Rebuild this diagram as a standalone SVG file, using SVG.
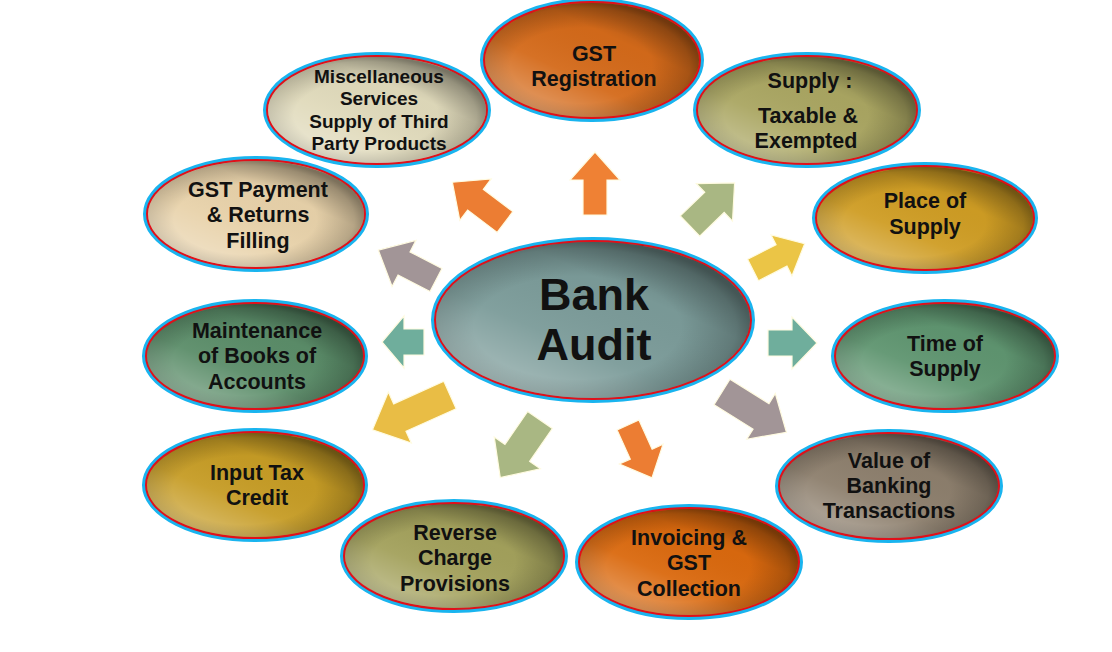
<svg xmlns="http://www.w3.org/2000/svg" width="1112" height="652" viewBox="0 0 1112 652">
<defs>
<radialGradient id="shade" cx="45%" cy="55%" r="55%">
<stop offset="0.6" stop-color="#000" stop-opacity="0"/>
<stop offset="0.92" stop-color="#000" stop-opacity="0.2"/>
<stop offset="1" stop-color="#000" stop-opacity="0.32"/>
</radialGradient>
<linearGradient id="gloss" x1="0.15" y1="0.9" x2="0.85" y2="0.1">
<stop offset="0" stop-color="#fff" stop-opacity="0.35"/>
<stop offset="0.35" stop-color="#fff" stop-opacity="0.05"/>
<stop offset="0.7" stop-color="#000" stop-opacity="0.02"/>
<stop offset="1" stop-color="#000" stop-opacity="0.25"/>
</linearGradient>
</defs>
<style>
.ring{fill:none;stroke:#19b4ef;stroke-width:4}
.edge{stroke:#e0101a;stroke-width:2}
.ov{stroke:none}
text{font-family:"Liberation Sans",Arial,sans-serif;font-weight:bold;fill:#111;text-anchor:middle;font-size:21.5px}
.arr{stroke:#fffbe0;stroke-width:1.2;stroke-linejoin:miter}
</style>
<rect width="1112" height="652" fill="#fff"/>

<g id="connectors">
<polygon class="arr" fill="#ef8134" points="0,-12 35,-12 35,-25 63,0 35,25 35,12 0,12" transform="translate(595,215) rotate(-90)"/>
<polygon class="arr" fill="#a9b783" points="0,-14 34,-14 34,-26 62,0 34,26 34,14 0,14" transform="translate(690,226) rotate(-44)"/>
<polygon class="arr" fill="#ebc546" points="0,-12 32,-12 32,-23 58,0 32,23 32,12 0,12" transform="translate(753,270) rotate(-27)"/>
<polygon class="arr" fill="#6fae9c" points="0,-13 24,-13 24,-26 49,0 24,26 24,13 0,13" transform="translate(768,343) rotate(0)"/>
<polygon class="arr" fill="#a29597" points="0,-15 46,-15 46,-27 76,0 46,27 46,15 0,15" transform="translate(722,392) rotate(32)"/>
<polygon class="arr" fill="#ec7d33" points="0,-12 32,-12 32,-24 58,0 32,24 32,12 0,12" transform="translate(628,425) rotate(65.6)"/>
<polygon class="arr" fill="#a9b783" points="0,-15 40,-15 40,-28 70,0 40,28 40,15 0,15" transform="translate(540,420) rotate(124.6)"/>
<polygon class="arr" fill="#e9bd45" points="0,-15 55,-15 55,-28 85,0 55,28 55,15 0,15" transform="translate(450,395) rotate(155.8)"/>
<polygon class="arr" fill="#6fae9c" points="0,-13 20,-13 20,-26 42,0 20,26 20,13 0,13" transform="translate(424,342) rotate(180)"/>
<polygon class="arr" fill="#a29597" points="0,-13 36,-13 36,-26 65,0 36,26 36,13 0,13" transform="translate(436,280) rotate(207.4)"/>
<polygon class="arr" fill="#ec7d33" points="0,-13 37,-13 37,-26 66,0 37,26 37,13 0,13" transform="translate(505,222) rotate(217.1)"/>
</g>

<g id="n-gst-registration">
<ellipse class="ring" cx="592" cy="60" rx="110" ry="60"/>
<ellipse class="edge" fill="#d46a1a" cx="592" cy="60" rx="108" ry="58"/>
<ellipse class="ov" fill="url(#gloss)" cx="592" cy="60" rx="107" ry="57"/>
<ellipse class="ov" fill="url(#shade)" cx="592" cy="60" rx="107" ry="57"/>
<text x="594" y="61">GST</text><text x="594" y="86">Registration</text>
</g>

<g id="n-supply">
<ellipse class="ring" cx="807" cy="110" rx="112" ry="56"/>
<ellipse class="edge" fill="#aaa662" cx="807" cy="110" rx="110" ry="54"/>
<ellipse class="ov" fill="url(#gloss)" cx="807" cy="110" rx="109" ry="53"/>
<ellipse class="ov" fill="url(#shade)" cx="807" cy="110" rx="109" ry="53"/>
<text x="810" y="88">Supply :</text><text x="808" y="123">Taxable &amp;</text><text x="806" y="148">Exempted</text>
</g>

<g id="n-place-of-supply">
<ellipse class="ring" cx="925" cy="218" rx="111" ry="54"/>
<ellipse class="edge" fill="#cf9d24" cx="925" cy="218" rx="109" ry="52"/>
<ellipse class="ov" fill="url(#gloss)" cx="925" cy="218" rx="108" ry="51"/>
<ellipse class="ov" fill="url(#shade)" cx="925" cy="218" rx="108" ry="51"/>
<text x="925" y="208">Place of</text><text x="925" y="234">Supply</text>
</g>

<g id="n-time-of-supply">
<ellipse class="ring" cx="945" cy="356" rx="112" ry="55"/>
<ellipse class="edge" fill="#5f9570" cx="945" cy="356" rx="110" ry="53"/>
<ellipse class="ov" fill="url(#gloss)" cx="945" cy="356" rx="109" ry="52"/>
<ellipse class="ov" fill="url(#shade)" cx="945" cy="356" rx="109" ry="52"/>
<text x="945" y="351">Time of</text><text x="945" y="376">Supply</text>
</g>

<g id="n-value-banking">
<ellipse class="ring" cx="889" cy="486" rx="112" ry="55"/>
<ellipse class="edge" fill="#8d7f6d" cx="889" cy="486" rx="110" ry="53"/>
<ellipse class="ov" fill="url(#gloss)" cx="889" cy="486" rx="109" ry="52"/>
<ellipse class="ov" fill="url(#shade)" cx="889" cy="486" rx="109" ry="52"/>
<text x="889" y="468">Value of</text><text x="889" y="493">Banking</text><text x="889" y="518">Transactions</text>
</g>

<g id="n-invoicing">
<ellipse class="ring" cx="689" cy="562" rx="112" ry="56"/>
<ellipse class="edge" fill="#da690e" cx="689" cy="562" rx="110" ry="54"/>
<ellipse class="ov" fill="url(#gloss)" cx="689" cy="562" rx="109" ry="53"/>
<ellipse class="ov" fill="url(#shade)" cx="689" cy="562" rx="109" ry="53"/>
<text x="689" y="545">Invoicing &amp;</text><text x="689" y="570">GST</text><text x="689" y="596">Collection</text>
</g>

<g id="n-reverse-charge">
<ellipse class="ring" cx="454" cy="556" rx="112" ry="55"/>
<ellipse class="edge" fill="#a3a15c" cx="454" cy="556" rx="110" ry="53"/>
<ellipse class="ov" fill="url(#gloss)" cx="454" cy="556" rx="109" ry="52"/>
<ellipse class="ov" fill="url(#shade)" cx="454" cy="556" rx="109" ry="52"/>
<text x="455" y="540">Reverse</text><text x="455" y="565">Charge</text><text x="455" y="591">Provisions</text>
</g>

<g id="n-input-tax-credit">
<ellipse class="ring" cx="255" cy="485" rx="111" ry="55"/>
<ellipse class="edge" fill="#c69c25" cx="255" cy="485" rx="109" ry="53"/>
<ellipse class="ov" fill="url(#gloss)" cx="255" cy="485" rx="108" ry="52"/>
<ellipse class="ov" fill="url(#shade)" cx="255" cy="485" rx="108" ry="52"/>
<text x="257" y="480">Input Tax</text><text x="257" y="505">Credit</text>
</g>

<g id="n-maintenance">
<ellipse class="ring" cx="255" cy="356" rx="111" ry="55"/>
<ellipse class="edge" fill="#5b8d69" cx="255" cy="356" rx="109" ry="53"/>
<ellipse class="ov" fill="url(#gloss)" cx="255" cy="356" rx="108" ry="52"/>
<ellipse class="ov" fill="url(#shade)" cx="255" cy="356" rx="108" ry="52"/>
<text x="257" y="338">Maintenance</text><text x="257" y="363">of Books of</text><text x="257" y="389">Accounts</text>
</g>

<g id="n-gst-payment">
<ellipse class="ring" cx="256" cy="214" rx="111" ry="56"/>
<ellipse class="edge" fill="#e8d2aa" cx="256" cy="214" rx="109" ry="54"/>
<ellipse class="ov" fill="url(#gloss)" cx="256" cy="214" rx="108" ry="53"/>
<ellipse class="ov" fill="url(#shade)" cx="256" cy="214" rx="108" ry="53"/>
<text x="258" y="197">GST Payment</text><text x="258" y="222">&amp; Returns</text><text x="258" y="248">Filling</text>
</g>

<g id="n-misc">
<ellipse class="ring" cx="377" cy="110" rx="112" ry="56"/>
<ellipse class="edge" fill="#e0dabb" cx="377" cy="110" rx="110" ry="54"/>
<ellipse class="ov" fill="url(#gloss)" cx="377" cy="110" rx="109" ry="53"/>
<ellipse class="ov" fill="url(#shade)" cx="377" cy="110" rx="109" ry="53"/>
<text x="379" y="83" style="font-size:19px">Miscellaneous</text><text x="379" y="105" style="font-size:19px">Services</text><text x="379" y="128" style="font-size:19px">Supply of Third</text><text x="379" y="150" style="font-size:19px">Party Products</text>
</g>

<g id="n-bank-audit">
<ellipse class="ring" cx="593" cy="320" rx="160" ry="81"/>
<ellipse class="edge" fill="#7b9b99" cx="593" cy="320" rx="158" ry="79"/>
<ellipse class="ov" fill="url(#gloss)" cx="593" cy="320" rx="157" ry="78"/>
<ellipse class="ov" fill="url(#shade)" cx="593" cy="320" rx="157" ry="78"/>
<text x="594" y="310" style="font-size:45px">Bank</text><text x="594" y="360" style="font-size:45px">Audit</text>
</g>
</svg>
